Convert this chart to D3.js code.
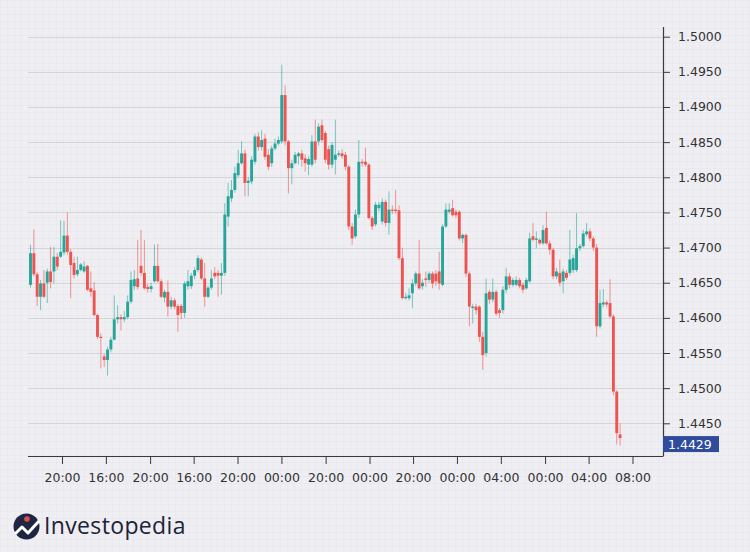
<!DOCTYPE html>
<html><head><meta charset="utf-8">
<script src="https://cdn.jsdelivr.net/npm/d3@7"></script>
<style>html,body{margin:0;padding:0;background:#eeeef2;}svg{display:block;}</style>
</head><body>
<svg id="chart" width="750" height="552"></svg>
<script>
const opens = [
1.4647,1.4692,1.4662,1.4630,1.4649,1.4650,1.4666,1.4666,1.4687,1.4687,
1.4693,1.4717,1.4694,1.4678,1.4662,1.4668,1.4666,1.4674,1.4642,1.4639,
1.4604,1.4573,1.4545,1.4540,1.4555,1.4569,1.4598,1.4601,1.4598,1.4601,
1.4623,1.4645,1.4656,1.4674,1.4664,1.4644,1.4641,1.4652,1.4674,1.4652,
1.4629,1.4637,1.4616,1.4625,1.4617,1.4617,1.4607,1.4645,1.4645,1.4660,
1.4668,1.4683,1.4656,1.4630,1.4643,1.4664,1.4664,1.4660,1.4664,1.4744,
1.4770,1.4782,1.4803,1.4820,1.4834,1.4792,1.4794,1.4822,1.4858,1.4843,
1.4855,1.4832,1.4820,1.4841,1.4848,1.4851,1.4917,1.4851,1.4813,1.4820,
1.4830,1.4834,1.4827,1.4818,1.4818,1.4851,1.4851,1.4874,1.4863,1.4840,
1.4818,1.4825,1.4832,1.4834,1.4832,1.4815,1.4730,1.4716,1.4747,1.4822,
1.4822,1.4818,1.4742,1.4733,1.4756,1.4737,1.4765,1.4735,1.4754,1.4754,
1.4753,1.4685,1.4628,1.4628,1.4635,1.4649,1.4663,1.4645,1.4656,1.4654,
1.4663,1.4663,1.4666,1.4647,1.4730,1.4751,1.4756,1.4751,1.4751,1.4713,
1.4718,1.4663,1.4614,1.4616,1.4616,1.4573,1.4550,1.4637,1.4626,1.4637,
1.4611,1.4611,1.4640,1.4659,1.4647,1.4647,1.4654,1.4647,1.4642,1.4652,
1.4716,1.4711,1.4711,1.4706,1.4728,1.4706,1.4697,1.4659,1.4664,1.4652,
1.4664,1.4664,1.4668,1.4668,1.4699,1.4702,1.4719,1.4723,1.4713,1.4700,
1.4588,1.4619,1.4622,1.4621,1.4602,1.4495,1.4434];
const highs = [
1.4704,1.4726,1.4665,1.4654,1.4668,1.4670,1.4701,1.4701,1.4692,1.4739,
1.4738,1.4750,1.4698,1.4687,1.4687,1.4678,1.4680,1.4675,1.4666,1.4651,
1.4606,1.4578,1.4549,1.4559,1.4573,1.4632,1.4618,1.4605,1.4610,1.4632,
1.4666,1.4668,1.4711,1.4725,1.4711,1.4648,1.4650,1.4704,1.4705,1.4655,
1.4640,1.4653,1.4630,1.4628,1.4620,1.4620,1.4652,1.4668,1.4664,1.4672,
1.4689,1.4686,1.4678,1.4646,1.4668,1.4672,1.4668,1.4678,1.4763,1.4792,
1.4796,1.4815,1.4839,1.4851,1.4839,1.4800,1.4830,1.4862,1.4864,1.4867,
1.4862,1.4840,1.4845,1.4855,1.4858,1.4960,1.4931,1.4853,1.4825,1.4836,
1.4836,1.4839,1.4833,1.4830,1.4860,1.4882,1.4877,1.4882,1.4866,1.4845,
1.4850,1.4882,1.4838,1.4840,1.4836,1.4818,1.4735,1.4754,1.4853,1.4826,
1.4842,1.4820,1.4745,1.4765,1.4765,1.4770,1.4768,1.4780,1.4760,1.4782,
1.4760,1.4700,1.4635,1.4642,1.4655,1.4666,1.4711,1.4655,1.4666,1.4666,
1.4666,1.4668,1.4694,1.4733,1.4763,1.4763,1.4768,1.4754,1.4753,1.4720,
1.4720,1.4666,1.4620,1.4620,1.4618,1.4580,1.4656,1.4640,1.4656,1.4640,
1.4614,1.4645,1.4671,1.4664,1.4657,1.4659,1.4657,1.4650,1.4657,1.4721,
1.4735,1.4723,1.4713,1.4732,1.4751,1.4710,1.4700,1.4671,1.4683,1.4670,
1.4668,1.4725,1.4690,1.4749,1.4705,1.4725,1.4735,1.4727,1.4716,1.4705,
1.4640,1.4641,1.4625,1.4655,1.4605,1.4497,1.4450];
const lows = [
1.4643,1.4659,1.4617,1.4611,1.4628,1.4621,1.4642,1.4649,1.4668,1.4685,
1.4689,1.4690,1.4628,1.4656,1.4659,1.4666,1.4664,1.4638,1.4630,1.4602,
1.4570,1.4528,1.4530,1.4518,1.4551,1.4568,1.4592,1.4582,1.4594,1.4598,
1.4620,1.4640,1.4640,1.4660,1.4640,1.4636,1.4636,1.4650,1.4650,1.4628,
1.4622,1.4602,1.4612,1.4612,1.4580,1.4598,1.4600,1.4640,1.4641,1.4655,
1.4665,1.4654,1.4616,1.4628,1.4640,1.4655,1.4630,1.4633,1.4660,1.4730,
1.4765,1.4778,1.4800,1.4818,1.4773,1.4773,1.4790,1.4818,1.4838,1.4838,
1.4825,1.4810,1.4815,1.4838,1.4845,1.4848,1.4845,1.4777,1.4790,1.4818,
1.4818,1.4815,1.4808,1.4803,1.4815,1.4820,1.4845,1.4850,1.4820,1.4811,
1.4813,1.4804,1.4829,1.4826,1.4810,1.4725,1.4704,1.4713,1.4742,1.4815,
1.4815,1.4740,1.4725,1.4730,1.4752,1.4733,1.4730,1.4718,1.4748,1.4748,
1.4682,1.4626,1.4626,1.4625,1.4614,1.4645,1.4640,1.4640,1.4644,1.4650,
1.4642,1.4645,1.4640,1.4645,1.4728,1.4748,1.4744,1.4742,1.4710,1.4706,
1.4658,1.4588,1.4592,1.4605,1.4566,1.4526,1.4545,1.4620,1.4622,1.4603,
1.4600,1.4606,1.4635,1.4642,1.4644,1.4645,1.4642,1.4635,1.4640,1.4650,
1.4709,1.4699,1.4704,1.4704,1.4704,1.4690,1.4655,1.4655,1.4645,1.4635,
1.4654,1.4660,1.4664,1.4665,1.4695,1.4700,1.4716,1.4709,1.4695,1.4573,
1.4585,1.4615,1.4615,1.4600,1.4490,1.4420,1.4418];
const closes = [
1.4692,1.4662,1.4630,1.4649,1.4630,1.4666,1.4651,1.4687,1.4673,1.4694,
1.4717,1.4694,1.4675,1.4661,1.4668,1.4676,1.4673,1.4640,1.4637,1.4604,
1.4573,1.4572,1.4540,1.4555,1.4569,1.4598,1.4601,1.4598,1.4601,1.4623,
1.4654,1.4655,1.4644,1.4664,1.4642,1.4641,1.4645,1.4674,1.4652,1.4630,
1.4637,1.4616,1.4625,1.4616,1.4604,1.4607,1.4649,1.4652,1.4660,1.4668,
1.4685,1.4656,1.4630,1.4643,1.4656,1.4659,1.4660,1.4664,1.4747,1.4773,
1.4782,1.4806,1.4820,1.4834,1.4792,1.4795,1.4825,1.4858,1.4843,1.4853,
1.4829,1.4815,1.4841,1.4848,1.4853,1.4917,1.4851,1.4813,1.4820,1.4832,
1.4834,1.4825,1.4820,1.4826,1.4851,1.4825,1.4872,1.4853,1.4825,1.4818,
1.4846,1.4832,1.4834,1.4830,1.4815,1.4730,1.4713,1.4747,1.4822,1.4820,
1.4818,1.4742,1.4730,1.4761,1.4761,1.4765,1.4735,1.4754,1.4753,1.4752,
1.4685,1.4628,1.4630,1.4632,1.4649,1.4663,1.4642,1.4650,1.4654,1.4663,
1.4649,1.4652,1.4649,1.4730,1.4754,1.4754,1.4746,1.4746,1.4713,1.4718,
1.4663,1.4616,1.4616,1.4611,1.4573,1.4547,1.4635,1.4626,1.4637,1.4606,
1.4607,1.4640,1.4659,1.4647,1.4654,1.4654,1.4645,1.4640,1.4654,1.4713,
1.4711,1.4713,1.4706,1.4725,1.4706,1.4697,1.4659,1.4666,1.4650,1.4666,
1.4657,1.4683,1.4685,1.4699,1.4702,1.4720,1.4723,1.4713,1.4700,1.4588,
1.4621,1.4622,1.4619,1.4602,1.4495,1.4436,1.4429];

const priceTicks = [1.4450,1.4500,1.4550,1.4600,1.4650,1.4700,1.4750,1.4800,1.4850,1.4900,1.4950,1.5000];
const timeLabels = ["20:00","16:00","20:00","16:00","20:00","00:00","20:00","00:00","20:00","00:00","04:00","00:00","04:00","08:00"];
const timeTickIndex = [9.4,22.5,35.7,48.7,61.8,74.9,88.1,101.2,114.2,127.3,140.4,153.6,166.6,179.7];
const lastPrice = 1.4429;

const data = opens.map((o,i)=>({i, o, h:highs[i], l:lows[i], c:closes[i]}));

const svg = d3.select("#chart");
const W = 750, H = 552;
const axisX = 663, axisY = 456, plotLeft = 28, plotTop = 27;

// background with fine graph-paper grid
const defs = svg.append("defs");
const pat = defs.append("pattern").attr("id","paper").attr("patternUnits","userSpaceOnUse")
  .attr("width",7).attr("height",7);
pat.append("rect").attr("width",7).attr("height",7).attr("fill","#efeff3");
pat.append("path").attr("d","M7 0 L0 0 0 7").attr("fill","none").attr("stroke","#e4e4ea").attr("stroke-width",1);
svg.append("rect").attr("width",W).attr("height",H).attr("fill","url(#paper)");

const x = d3.scaleLinear().domain([0, 176]).range([30.5, 620.1]);
const y = d3.scaleLinear().domain([1.445, 1.5]).range([423.3, 36.7]);

// horizontal gridlines
svg.append("g").selectAll("line").data(priceTicks).join("line")
  .attr("x1", plotLeft).attr("x2", axisX)
  .attr("y1", d=>Math.round(y(d))+0.5).attr("y2", d=>Math.round(y(d))+0.5)
  .attr("stroke","#d4d4db").attr("stroke-width",1);

const up = "#26a69a", down = "#ef5350";
const bw = 2.9;
const candles = svg.append("g");
candles.selectAll("line").data(data).join("line")
  .attr("x1", d=>x(d.i)).attr("x2", d=>x(d.i))
  .attr("y1", d=>y(d.h)).attr("y2", d=>y(d.l))
  .attr("stroke", d=>d.c>=d.o?up:down).attr("stroke-opacity",0.6).attr("stroke-width",1);
candles.selectAll("rect").data(data).join("rect")
  .attr("x", d=>x(d.i)-bw/2).attr("width", bw)
  .attr("y", d=>y(Math.max(d.o,d.c)))
  .attr("height", d=>Math.max(1.2, Math.abs(y(d.o)-y(d.c))))
  .attr("fill", d=>d.c>=d.o?up:down);

// axes
const axisColor = "#3a3a3a";
const yAxis = svg.append("g").attr("transform",`translate(${axisX},0)`)
  .call(d3.axisRight(y).tickValues(priceTicks).tickFormat(d=>d.toFixed(4)).tickSize(7).tickPadding(8));
yAxis.select(".domain").remove();
yAxis.selectAll(".tick line").attr("stroke",axisColor);
yAxis.selectAll("text").attr("font-family","DejaVu Sans, sans-serif").attr("font-size",12.5).attr("fill","#333");

const xAxis = svg.append("g").attr("transform",`translate(0,${axisY})`)
  .call(d3.axisBottom(x).tickValues(timeTickIndex).tickFormat((d,k)=>timeLabels[k]).tickSize(8).tickPadding(9));
xAxis.select(".domain").remove();
xAxis.selectAll(".tick line").attr("stroke",axisColor);
xAxis.selectAll("text").attr("font-family","DejaVu Sans, sans-serif").attr("font-size",12.5).attr("fill","#333");

svg.append("line").attr("x1",axisX+0.5).attr("x2",axisX+0.5).attr("y1",plotTop).attr("y2",axisY)
  .attr("stroke",axisColor).attr("stroke-width",1.2);
svg.append("line").attr("x1",28).attr("x2",axisX+0.5).attr("y1",axisY+0.5).attr("y2",axisY+0.5)
  .attr("stroke",axisColor).attr("stroke-width",1.2);

// last price label
const lp = svg.append("g");
lp.append("rect").attr("x",axisX).attr("y",y(lastPrice)-2).attr("width",56).attr("height",16).attr("fill","#2f4b9c");
lp.append("text").attr("x",axisX+5).attr("y",y(lastPrice)+10.5).text(lastPrice.toFixed(4))
  .attr("font-family","DejaVu Sans, sans-serif").attr("font-size",12.5).attr("fill","#ffffff");

// logo
const logo = svg.append("g");
logo.append("circle").attr("cx",26.5).attr("cy",526.5).attr("r",13).attr("fill","#1e2644");
logo.append("path").attr("d","M15 534 L22 527 L28 533 L39 521").attr("fill","none")
  .attr("stroke","#ffffff").attr("stroke-width",3).attr("stroke-linejoin","round");
logo.append("circle").attr("cx",27).attr("cy",519).attr("r",2.8).attr("fill","#e14b4b");
logo.append("text").attr("x",44).attr("y",534).text("Investopedia")
  .attr("font-family","'Open Sans', Lato, sans-serif").attr("font-size",23).attr("letter-spacing",0.35).attr("fill","#1e2238");
</script>
</body></html>
